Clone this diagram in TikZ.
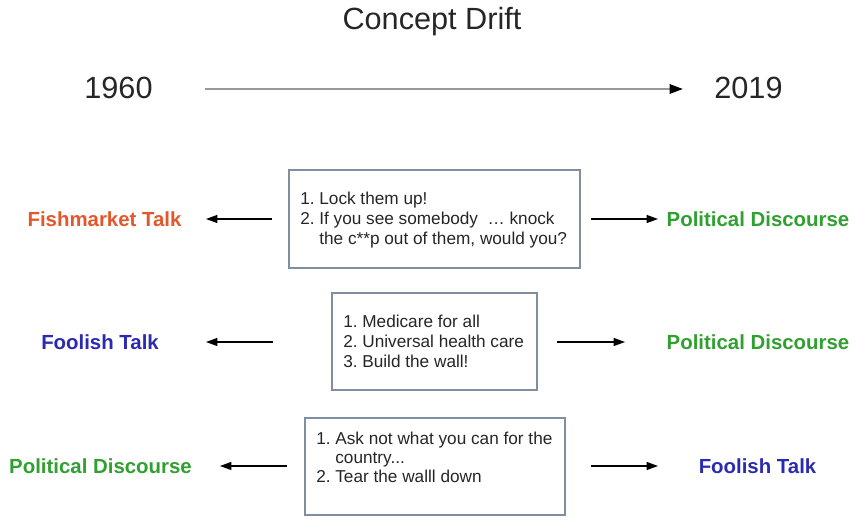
\documentclass[tikz,border=0pt]{standalone}
\usepackage{fontspec}
\setmainfont{Liberation Sans}
\usetikzlibrary{arrows.meta}
\definecolor{fishred}{HTML}{E2572B}
\definecolor{polgreen}{HTML}{30A030}
\definecolor{foolblue}{HTML}{2B2BB0}
\definecolor{boxgray}{HTML}{7F8EA0}
\definecolor{textgray}{HTML}{262626}
\begin{document}
\begin{tikzpicture}[x=0.75pt,y=-0.75pt,
  bigtext/.style={font=\fontsize{23}{27}\selectfont, text=textgray, inner sep=0},
  label/.style={font=\fontsize{15.3}{18}\selectfont\bfseries, inner sep=0},
  listbox/.style={draw=boxgray, line width=0.9pt, fill=white},
  listtext/.style={font=\fontsize{12.9}{15}\selectfont, text=textgray, align=left, inner sep=0, anchor=north west},
  conn/.style={line width=0.8pt, -{Triangle[length=8.5pt,width=6pt]}}
]
\useasboundingbox (0,0) rectangle (858,527);

% header
\node[bigtext] (title) at (432,22) {Concept Drift};
\node[bigtext] (y1960) at (118.5,88) {1960};
\node[bigtext] (y2019) at (748.5,88) {2019};
\coordinate (tl0) at (205,89);
\coordinate (tl1) at (683,89);
\draw[draw=gray!80, line width=1.6pt, -{Triangle[length=10pt,width=7pt,color=black]}] (tl0) -- (tl1);

% row 1
\draw[listbox] (289,170) rectangle (580,268);
\node[listtext] (t1) at (300,192) {1.~Lock them up!\\2.~If you see somebody~~\dots{} knock\\\phantom{2.~}the c**p out of them, would you?};
\node[label, text=fishred] (l1) at (104.5,219) {Fishmarket Talk};
\node[label, text=polgreen] (r1) at (758,219) {Political Discourse};
\coordinate (a1s) at (272,219);
\coordinate (a1e) at (206,219);
\coordinate (b1s) at (591,219);
\coordinate (b1e) at (658,219);
\draw[conn] (a1s) -- (a1e);
\draw[conn] (b1s) -- (b1e);

% row 2
\draw[listbox] (332,293) rectangle (537,390);
\node[listtext] (t2) at (343,315) {1.~Medicare for all\\2.~Universal health care\\3.~Build the wall!};
\node[label, text=foolblue] (l2) at (100,342) {Foolish Talk};
\node[label, text=polgreen] (r2) at (758,342) {Political Discourse};
\coordinate (a2s) at (273,342);
\coordinate (a2e) at (206,342);
\coordinate (b2s) at (557,342);
\coordinate (b2e) at (625,342);
\draw[conn] (a2s) -- (a2e);
\draw[conn] (b2s) -- (b2e);

% row 3
\draw[listbox] (305,418) rectangle (565,515);
\node[listtext, font=\fontsize{12.9}{14.3}\selectfont] (t3) at (316,431.5) {1.~Ask not what you can for the\\\phantom{1.~}country...\\2.~Tear the walll down};
\node[label, text=polgreen] (l3) at (100.5,466) {Political Discourse};
\node[label, text=foolblue] (r3) at (757.5,466) {Foolish Talk};
\coordinate (a3s) at (287,466);
\coordinate (a3e) at (220,466);
\coordinate (b3s) at (591,466);
\coordinate (b3e) at (658,466);
\draw[conn] (a3s) -- (a3e);
\draw[conn] (b3s) -- (b3e);
\end{tikzpicture}
\end{document}
